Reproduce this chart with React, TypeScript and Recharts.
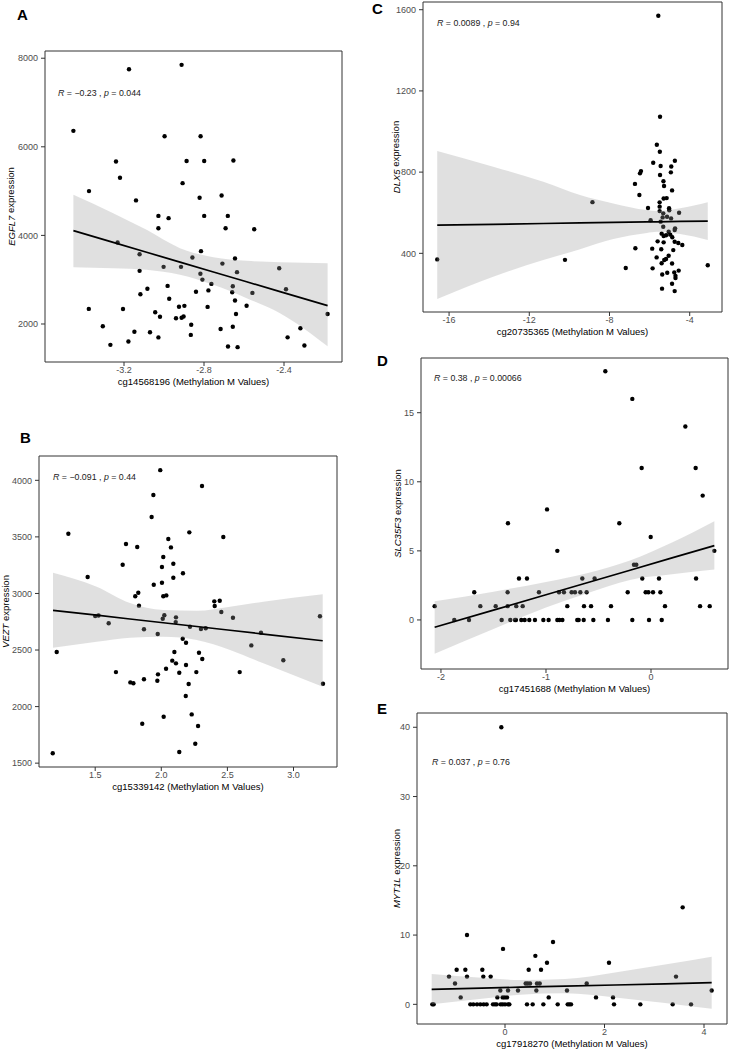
import React from 'react';
import { ComposedChart, Scatter, Area, Line, XAxis, YAxis, ReferenceArea } from 'recharts';

// A: EGFL7 vs cg14568196
const aX = [-3.175, -2.912, -3.453, -2.997, -2.817, -3.24, -2.887, -2.799, -2.653, -3.22, -2.907, -3.375, -3.14, -2.822, -2.712, -3.028, -2.977, -2.799, -2.681, -3.028, -2.692, -2.549, -3.232, -3.122, -2.815, -2.858, -2.645, -3.122, -3.002, -2.915, -2.708, -2.424, -2.635, -2.818, -2.808, -2.763, -2.39, -2.656, -2.659, -2.558, -2.982, -3.083, -3.118, -2.84, -2.778, -2.974, -2.645, -2.587, -3.376, -3.205, -2.925, -2.898, -2.782, -3.044, -3.02, -2.94, -2.912, -2.902, -2.64, -2.182, -3.306, -2.864, -2.656, -2.717, -2.318, -3.148, -3.07, -2.866, -3.028, -2.382, -3.178, -3.268, -2.68, -2.632, -2.298];
const aY = [7750, 7850, 6360, 6240, 6240, 5670, 5680, 5680, 5690, 5300, 5180, 5000, 4790, 4850, 4900, 4440, 4390, 4440, 4440, 4160, 4160, 4140, 3840, 3575, 3645, 3500, 3478, 3200, 3290, 3290, 3363, 3258, 3170, 3135, 3002, 2905, 2785, 2852, 2717, 2702, 2860, 2796, 2672, 2728, 2758, 2570, 2530, 2412, 2341, 2340, 2390, 2410, 2386, 2265, 2164, 2130, 2142, 2170, 2226, 2226, 1949, 1983, 1938, 1888, 1904, 1825, 1814, 1754, 1697, 1699, 1605, 1529, 1492, 1477, 1514];
const aBandX = [-3.453, -3.254, -3.087, -2.92, -2.753, -2.587, -2.42, -2.182];
const aFit = [4108, 3843, 3620, 3398, 3175, 2954, 2731, 2414];
const aHi = [4915, 4502, 4125, 3712, 3509, 3426, 3396, 3373];
const aLo = [3283, 3260, 3222, 3110, 2884, 2583, 2245, 1500];

// B: VEZT vs cg15339142
const bX = [1.992, 2.308, 1.94, 1.927, 1.297, 2.212, 2.469, 2.053, 1.733, 1.818, 2.073, 2.015, 1.708, 2.091, 2.005, 1.443, 2.164, 2.091, 2.005, 1.943, 1.826, 1.803, 2.015, 2.038, 2.401, 2.442, 2.404, 1.831, 2.454, 1.5, 1.525, 2.023, 2.011, 2.111, 2.542, 3.2, 1.602, 2.109, 1.869, 1.973, 2.217, 2.3, 2.336, 2.754, 2.162, 2.187, 2.681, 2.923, 1.209, 2.099, 2.285, 2.31, 2.083, 2.111, 2.187, 2.036, 1.657, 2.136, 2.265, 2.593, 1.975, 1.869, 1.97, 1.766, 1.789, 2.207, 3.223, 2.185, 2.018, 2.23, 1.856, 2.278, 2.257, 2.136, 1.179];
const bY = [4090, 3950, 3870, 3676, 3528, 3540, 3499, 3481, 3437, 3410, 3407, 3322, 3254, 3263, 3234, 3145, 3178, 3139, 3095, 3077, 3006, 2975, 2975, 2983, 2930, 2936, 2889, 2892, 2836, 2800, 2805, 2807, 2777, 2789, 2785, 2798, 2736, 2747, 2683, 2641, 2706, 2686, 2692, 2653, 2600, 2564, 2541, 2409, 2482, 2482, 2476, 2420, 2406, 2382, 2367, 2335, 2305, 2299, 2305, 2305, 2285, 2241, 2229, 2214, 2206, 2199, 2202, 2093, 1910, 1931, 1848, 1828, 1672, 1598, 1587];
const bBandX = [1.181, 1.511, 1.763, 2.015, 2.268, 2.52, 2.772, 3.221];
const bFit = [2851, 2808, 2774, 2741, 2708, 2675, 2641, 2582];
const bHi = [3183, 3059, 2915, 2853, 2847, 2883, 2927, 2992];
const bLo = [2520, 2573, 2609, 2617, 2588, 2500, 2382, 2175];

// C: DLX5 vs cg20735365
const cX = [-5.566, -16.59, -10.22, -8.85, -7.19, -3.1, -5.48, -5.64, -5.49, -5.82, -4.74, -6.43, -6.48, -5.45, -4.92, -4.94, -5.48, -6.73, -5.31, -5.28, -4.88, -6.51, -5.3, -5.15, -5.5, -5.5, -6.08, -5.03, -5.02, -5.5, -5.32, -4.53, -5.13, -4.93, -5.35, -5.95, -5.45, -5.32, -4.73, -4.75, -5.05, -5.4, -5.3, -5.18, -4.97, -4.87, -4.75, -5.6, -5.3, -4.57, -4.37, -6.71, -5.87, -5.42, -4.82, -5.05, -5.18, -5.65, -5.27, -5.85, -5.4, -4.88, -4.55, -5.12, -5.37, -4.77, -4.71, -4.71, -4.88, -5.38, -4.75];
const cY = [1570, 370, 368, 652, 328, 341, 1073, 935, 900, 846, 856, 805, 794, 830, 828, 799, 786, 742, 755, 732, 710, 687, 670, 672, 651, 630, 623, 622, 612, 608, 597, 600, 580, 572, 577, 563, 556, 531, 523, 515, 506, 497, 485, 489, 492, 479, 457, 459, 454, 451, 441, 425, 423, 420, 416, 388, 372, 380, 367, 326, 351, 350, 315, 304, 296, 306, 289, 278, 250, 226, 214];
const cBandX = [-16.59, -13.8, -11.3, -9.47, -7.81, -6.14, -5.65, -4.48, -3.1];
const cFit = [539, 543, 547, 550, 552, 555, 555, 557, 559];
const cHi = [904, 827, 753, 687, 646, 613, 608, 622, 651];
const cLo = [175, 285, 367, 420, 470, 500, 506, 495, 466];

// D: SLC35F3 vs cg17451688
const dX = [-2.06, -1.873, -1.733, -1.683, -1.625, -1.479, -1.422, -1.362, -1.365, -1.365, -1.34, -1.283, -1.295, -1.286, -1.257, -1.222, -1.235, -1.203, -1.159, -1.181, -1.105, -1.067, -1.025, -0.975, -0.99, -0.892, -0.892, -0.873, -0.844, -0.876, -0.829, -0.797, -0.756, -0.724, -0.673, -0.702, -0.689, -0.641, -0.654, -0.638, -0.613, -0.571, -0.549, -0.537, -0.435, -0.41, -0.381, -0.302, -0.222, -0.178, -0.178, -0.162, -0.14, -0.089, -0.083, -0.051, -0.025, 0.019, -0.019, -0.003, 0.076, 0.089, 0.102, 0.133, 0.327, 0.425, 0.429, 0.467, 0.492, 0.559, 0.603];
const dY = [1, 0, 0, 2, 1, 1, 0, 7, 2, 1, 0, 1, 0, 0, 3, 1, 0, 0, 0, 3, 0, 2, 0, 0, 8, 5, 0, 0, 0, 2, 2, 1, 2, 2, 2, 0, 0, 0, 3, 1, 2, 1, 0, 3, 18, 0, 1, 7, 2, 16, 0, 4, 4, 11, 3, 2, 2, 2, 0, 6, 3, 2, 0, 1, 14, 11, 3, 1, 9, 1, 5];
const dBandX = [-2.06, -1.5, -1.0, -0.6, -0.2, 0.2, 0.603];
const dFit = [-0.53, 0.71, 1.82, 2.71, 3.6, 4.49, 5.38];
const dHi = [1.35, 2.05, 2.75, 3.4, 4.3, 5.6, 7.15];
const dLo = [-2.45, -0.65, 0.9, 1.95, 2.9, 3.3, 3.65];

// E: MYT1L vs cg17918270
const eX = [-0.074, 3.571, -0.764, 0.965, -0.04, 0.61, 0.844, 2.09, -0.972, -0.797, -0.456, 0.476, 0.724, -1.126, -0.764, -0.436, -0.288, 3.437, -1.005, 0.415, 0.456, 0.503, 0.643, 0.697, 1.642, -0.094, 0.06, 0.261, 0.63, 1.246, 4.154, -0.891, -0.154, -0.047, -0.007, 0.04, 0.878, 1.829, 2.171, -1.461, -1.434, -0.697, -0.637, -0.563, -0.496, -0.429, -0.369, -0.241, -0.201, -0.168, -0.087, -0.047, 0, 0.06, 0.087, 0.442, 0.556, 0.771, 1.059, 1.26, 1.293, 1.327, 2.191, 2.72, 3.37, 3.739];
const eY = [40, 14, 10, 9, 8, 7, 6, 6, 5, 5, 5, 5, 5, 4, 4, 4, 4, 4, 3, 3, 3, 3, 3, 3, 3, 2, 2, 2, 2, 2, 2, 1, 1, 1, 1, 1, 1, 1, 1, 0, 0, 0, 0, 0, 0, 0, 0, 0, 0, 0, 0, 0, 0, 0, 0, 0, 0, 0, 0, 0, 0, 0, 0, 0, 0, 0];
const eBandX = [-1.474, -0.469, 0.302, 1.206, 2.211, 3.216, 4.154];
const eFit = [2.16, 2.33, 2.47, 2.62, 2.79, 2.96, 3.13];
const eHi = [4.38, 3.85, 3.51, 3.65, 4.6, 5.75, 6.88];
const eLo = [0.0, 0.8, 1.4, 1.6, 1.0, 0.2, -0.65];

const fix1 = (v: number) => v.toFixed(1);
const plain = (v: number) => String(v);

const panels = [
  {
    id: 'A', gene: 'EGFL7', cpg: 'cg14568196', r: '\u22120.23', p: '0.044',
    box: { l: 45, t: 51, r: 342, b: 362 }, left: 0, ytOff: 34.5,
    xs: aX, ys: aY, bandX: aBandX, fit: aFit, hi: aHi, lo: aLo,
    xDomain: [-3.595, -2.11], yDomain: [1142, 8163],
    xTicks: [-3.2, -2.8, -2.4], yTicks: [2000, 4000, 6000, 8000], xFmt: fix1,
    letter: { x: 17, y: 7 }, anno: { x: 58, y: 89 },
  },
  {
    id: 'B', gene: 'VEZT', cpg: 'cg15339142', r: '\u22120.091', p: '0.44',
    box: { l: 39, t: 456, r: 337, b: 767 }, left: 0, ytOff: 34,
    xs: bX, ys: bY, bandX: bBandX, fit: bFit, hi: bHi, lo: bLo,
    xDomain: [1.075, 3.329], yDomain: [1466, 4215],
    xTicks: [1.5, 2.0, 2.5, 3.0], yTicks: [1500, 2000, 2500, 3000, 3500, 4000], xFmt: fix1,
    letter: { x: 20, y: 430 }, anno: { x: 53, y: 472.5 },
  },
  {
    id: 'C', gene: 'DLX5', cpg: 'cg20735365', r: '0.0089', p: '0.94',
    box: { l: 423, t: 2, r: 722, b: 312 }, left: 380, ytOff: 27.5,
    xs: cX, ys: cY, bandX: cBandX, fit: cFit, hi: cHi, lo: cLo,
    xDomain: [-17.3, -2.39], yDomain: [111, 1638],
    xTicks: [-16, -12, -8, -4], yTicks: [400, 800, 1200, 1600], xFmt: plain,
    letter: { x: 372, y: 1 }, anno: { x: 437, y: 18.5 },
  },
  {
    id: 'D', gene: 'SLC35F3', cpg: 'cg17451688', r: '0.38', p: '0.00066',
    box: { l: 421, t: 358, r: 728, b: 669 }, left: 380, ytOff: 24,
    xs: dX, ys: dY, bandX: dBandX, fit: dFit, hi: dHi, lo: dLo,
    xDomain: [-2.19, 0.733], yDomain: [-3.55, 18.96],
    xTicks: [-2, -1, 0], yTicks: [0, 5, 10, 15], xFmt: plain,
    letter: { x: 377, y: 353 }, anno: { x: 434, y: 374 },
  },
  {
    id: 'E', gene: 'MYT1L', cpg: 'cg17918270', r: '0.037', p: '0.76',
    box: { l: 417, t: 713, r: 727, b: 1024 }, left: 380, ytOff: 21,
    xs: eX, ys: eY, bandX: eBandX, fit: eFit, hi: eHi, lo: eLo,
    xDomain: [-1.769, 4.462], yDomain: [-2.84, 42.06],
    xTicks: [0, 2, 4], yTicks: [0, 10, 20, 30, 40], xFmt: plain,
    letter: { x: 377, y: 701 }, anno: { x: 432, y: 757.5 },
  },
];

function XTitle({ viewBox, text }: any) {
  const { x, y, width } = viewBox;
  return (
    <text x={x + width / 2} y={y + 23} textAnchor="middle" fontSize={9.5} fill="#000">
      {text}
    </text>
  );
}

function YTitle({ viewBox, gene, off }: any) {
  const { x, y, width, height } = viewBox;
  const cx = x + width - off;
  const cy = y + height / 2;
  return (
    <text x={cx} y={cy} transform={`rotate(-90 ${cx} ${cy})`} textAnchor="middle" dominantBaseline="central" fontSize={9.5} fill="#000">
      <tspan fontStyle="italic">{gene}</tspan> expression
    </text>
  );
}

const Dot = (props: any) => <circle cx={props.cx} cy={props.cy} r={2.2} fill="#000" />;

function Panel({ p }: any) {
  const yw = p.box.l - p.left;
  const top = p.box.t - 6;
  const width = p.box.r + 4 - p.left;
  const height = p.box.b + 34 - top;
  const pts = p.xs.map((x: number, i: number) => ({ x, y: p.ys[i] }));
  const band = p.bandX.map((x: number, i: number) => ({ x, band: [p.lo[i], p.hi[i]], fit: p.fit[i] }));
  const tickStyle = { fontSize: 9, fill: '#4d4d4d' };
  return (
    <div style={{ position: 'absolute', left: p.left, top }}>
      <ComposedChart width={width} height={height} data={band} margin={{ top: 6, right: 4, bottom: 0, left: 0 }}>
        <XAxis
          type="number" dataKey="x" domain={p.xDomain} ticks={p.xTicks} allowDataOverflow interval={0}
          height={34} tickSize={4} tickMargin={1} axisLine={false} tickLine={{ stroke: '#333' }}
          tick={tickStyle} tickFormatter={p.xFmt}
          label={<XTitle text={`${p.cpg} (Methylation M Values)`} />}
        />
        <YAxis
          type="number" domain={p.yDomain} ticks={p.yTicks} allowDataOverflow interval={0}
          width={yw} tickSize={4} tickMargin={3} axisLine={false} tickLine={{ stroke: '#333' }}
          tick={tickStyle}
          label={<YTitle gene={p.gene} off={p.ytOff} />}
        />
        <Scatter data={pts} dataKey="y" shape={Dot} isAnimationActive={false} />
        <Area dataKey="band" type="monotone" stroke="none" fill="#999" fillOpacity={0.3} isAnimationActive={false} zIndex={700} />
        <Line dataKey="fit" type="linear" stroke="#000" strokeWidth={1.7} dot={false} activeDot={false} isAnimationActive={false} zIndex={800} />
        <ReferenceArea x1={p.xDomain[0]} x2={p.xDomain[1]} y1={p.yDomain[0]} y2={p.yDomain[1]} fill="none" stroke="#333" strokeWidth={1} ifOverflow="visible" zIndex={900} />
      </ComposedChart>
    </div>
  );
}

export default function App() {
  return (
    <div style={{ position: 'absolute', left: 0, top: 0, width: 729, height: 1050, background: '#fff', overflow: 'hidden', fontFamily: 'Arial, "Liberation Sans", Helvetica, sans-serif' }}>
      {panels.map((p) => (
        <Panel key={p.id} p={p} />
      ))}
      {panels.map((p) => (
        <div key={`l${p.id}`} style={{ position: 'absolute', left: p.letter.x, top: p.letter.y, fontSize: 15, fontWeight: 'bold', lineHeight: 1 }}>
          {p.id}
        </div>
      ))}
      {panels.map((p) => (
        <div key={`a${p.id}`} style={{ position: 'absolute', left: p.anno.x, top: p.anno.y, fontSize: 8.8, lineHeight: 1, color: '#1a1a1a', whiteSpace: 'nowrap' }}>
          <i>R</i> = {p.r} , <i>p</i> = {p.p}
        </div>
      ))}
    </div>
  );
}
